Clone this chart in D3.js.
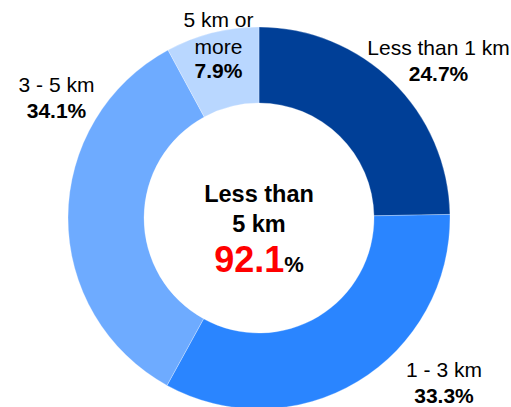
<!DOCTYPE html>
<html>
<head>
<meta charset="utf-8">
<script src="https://cdn.jsdelivr.net/npm/d3@7"></script>
<style>
  html, body { margin: 0; padding: 0; background: #fff; }
  svg { display: block; }
  text { font-family: "Liberation Sans", Arial, sans-serif; fill: #000; }
</style>
</head>
<body>
<svg id="chart" width="511" height="407"></svg>
<script>
// Data
const categories = ["Less than 1 km", "1 - 3 km", "3 - 5 km", "5 km or more"];
const values = [24.7, 33.3, 34.1, 7.9];
const colors = ["#003F97", "#2A85FF", "#6EABFF", "#B9D7FF"];
const labelLines = [["Less than 1 km"], ["1 - 3 km"], ["3 - 5 km"], ["5 km or", "more"]];
const centerLines = ["Less than", "5 km"];
const centerValue = "92.1";

const svg = d3.select("#chart");
const cx = 259, cy = 218, rOuter = 191, rInner = 115;

const g = svg.append("g").attr("transform", `translate(${cx},${cy})`);

const pie = d3.pie().sort(null).value(d => d);
const arcs = pie(values);
const arc = d3.arc().innerRadius(rInner).outerRadius(rOuter);

g.selectAll("path.slice")
  .data(arcs)
  .join("path")
  .attr("class", "slice")
  .attr("d", arc)
  .attr("fill", (d, i) => colors[i])
  .attr("stroke", "#ffffff")
  .attr("stroke-opacity", 0.35)
  .attr("stroke-width", 0.8);

// Label anchor positions (label centres)
const labelPos = [
  { x: 438.5, y: 55 },
  { x: 444, y: 377 },
  { x: 56.5, y: 92 },
  { x: 218.5, y: 27 }
];

const lab = svg.append("g");
arcs.forEach((a, i) => {
  const p = labelPos[i];
  const t = lab.append("text")
    .attr("text-anchor", "middle")
    .attr("font-size", 21)
    .attr("x", p.x).attr("y", p.y);
  labelLines[i].forEach((line, j) => {
    t.append("tspan").attr("x", p.x).attr("dy", j === 0 ? 0 : 27).text(line);
  });
  t.append("tspan").attr("x", p.x).attr("dy", labelLines[i].length > 1 ? 24 : 25.5)
    .attr("font-weight", "bold").text(d3.format(".1f")(values[i]) + "%");
});

// Centre text
const ct = svg.append("text").attr("text-anchor", "middle").attr("font-weight", "bold").attr("font-size", 23.5);
ct.append("tspan").attr("x", cx).attr("y", 202).text(centerLines[0]);
ct.append("tspan").attr("x", cx).attr("y", 232).text(centerLines[1]);

const cv = svg.append("text").attr("text-anchor", "middle").attr("font-weight", "bold").attr("x", cx).attr("y", 272);
cv.append("tspan").attr("font-size", 36).style("fill", "#FF0000").text(centerValue);
cv.append("tspan").attr("font-size", 22).text("%");
</script>
</body>
</html>
